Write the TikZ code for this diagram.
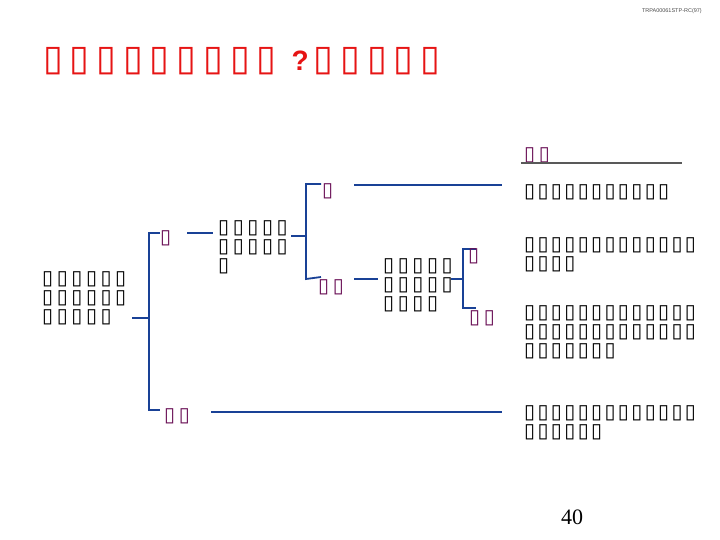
\documentclass[tikz,border=0pt]{standalone}
\usepackage{fontspec}
\setmainfont{Liberation Sans}
\newfontfamily\bxf{DejaVu Sans}
\newfontfamily\numf{Liberation Serif}
\newcommand\bodyfnt{\bxf\fontsize{20}{19}\selectfont\spaceskip 2.4pt\relax}
\newcommand\treefnt{\bxf\fontsize{20}{19}\selectfont\spaceskip 3.6pt\relax}
\newcommand\titlefnt{\bxf\fontsize{36}{40}\selectfont\spaceskip 6.9pt\relax}
\definecolor{conn}{RGB}{25,65,150}
\definecolor{lab}{RGB}{105,15,85}
\definecolor{ttl}{RGB}{230,20,20}
\begin{document}
\begin{tikzpicture}[x=1pt,y=-1pt,
  body/.style={anchor=west,inner sep=0pt,align=left,font=\bodyfnt},
  tree/.style={anchor=west,inner sep=0pt,align=left,font=\treefnt},
  labl/.style={anchor=west,inner sep=0pt,text=lab,font=\treefnt},
  cn/.style={draw=conn,line width=1.8pt},
]
\useasboundingbox (0,0) rectangle (720,540);
\node[anchor=north east,inner sep=0pt,text=black!70,font=\fontsize{5.5}{6}\selectfont] (ref) at (702,8) {TRPA00061STP-RC(97)};
\node[anchor=west,inner sep=0pt,text=ttl,font=\titlefnt] (title) at (43,61) {▯ ▯ ▯ ▯ ▯ ▯ ▯ ▯ ▯\hspace{15pt}{\rmfamily\bfseries\fontsize{28}{30}\selectfont ?}\hspace{5pt}▯ ▯ ▯ ▯ ▯};
% root
\node[tree] (root) at (42,298) {▯ ▯ ▯ ▯ ▯ ▯\\▯ ▯ ▯ ▯ ▯ ▯\\▯ ▯ ▯ ▯ ▯};
\coordinate (r0) at (132,318);
\coordinate (r1) at (149,318);
\coordinate (rb) at (149,410);
\draw[cn] (r0) -- (r1);
\draw[cn] (160,233) -| (rb) -- (160,410);
\node[labl] (yes1) at (160,238) {▯};
\node[labl] (no1) at (164,416) {▯ ▯};
% top branch
\node[tree] (mid1) at (218,247) {▯ ▯ ▯ ▯ ▯\\▯ ▯ ▯ ▯ ▯\\▯};
\draw[cn] (187,233) -- (213,233);
\coordinate (m1) at (306,236);
\draw[cn] (291,236) -- (m1);
\draw[cn] (321,184) -| (306,279) -- (321,277);
\node[labl] (yes2) at (322,191) {▯};
\node[labl] (no2) at (318,287) {▯ ▯};
\draw[cn] (354,185) -- (502,185);
% second decision
\node[tree] (mid2) at (383,285) {▯ ▯ ▯ ▯ ▯\\▯ ▯ ▯ ▯ ▯\\▯ ▯ ▯ ▯};
\draw[cn] (354,279) -- (378,279);
\draw[cn] (451,279) -- (463,279);
\draw[cn] (476,249) -| (463,308) -- (476,308);
\node[labl] (yes3) at (468,256) {▯};
\node[labl] (no3) at (469,318) {▯ ▯};
% bottom branch
\draw[cn] (211,412) -- (502,412);
% results
\node[labl] (head) at (524,155) {▯ ▯};
\draw[draw=black!65,line width=1.3pt] (521,163) -- (682,163);
\node[body] (res1) at (524,192) {▯ ▯ ▯ ▯ ▯ ▯ ▯ ▯ ▯ ▯ ▯};
\node[body] (res2) at (524,255) {▯ ▯ ▯ ▯ ▯ ▯ ▯ ▯ ▯ ▯ ▯ ▯ ▯\\▯ ▯ ▯ ▯};
\node[body] (res3) at (524,332) {▯ ▯ ▯ ▯ ▯ ▯ ▯ ▯ ▯ ▯ ▯ ▯ ▯\\▯ ▯ ▯ ▯ ▯ ▯ ▯ ▯ ▯ ▯ ▯ ▯ ▯\\▯ ▯ ▯ ▯ ▯ ▯ ▯};
\node[body] (res4) at (524,423) {▯ ▯ ▯ ▯ ▯ ▯ ▯ ▯ ▯ ▯ ▯ ▯ ▯\\▯ ▯ ▯ ▯ ▯ ▯};
\node[inner sep=0pt,font=\numf\fontsize{22}{24}\selectfont] (pg) at (572,517) {40};
\end{tikzpicture}
\end{document}
